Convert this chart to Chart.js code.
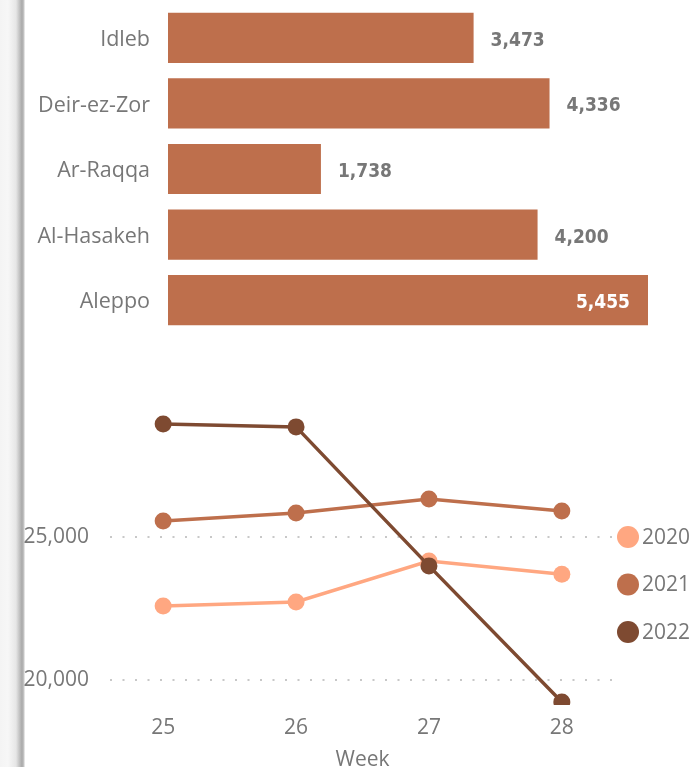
<!DOCTYPE html>
<html>
<head>
<meta charset="utf-8">
<script src="https://cdn.jsdelivr.net/npm/chart.js@4"></script>
<style>
  html, body { margin:0; padding:0; background:#fff; }
  body { width:691px; height:767px; position:relative; overflow:hidden; }
  #strip { position:absolute; left:0; top:0; width:25px; height:767px;
    background:linear-gradient(to right,#f4f4f4 0px,#f7f7f7 8px,#e6e6e6 16px,#bdbdbd 20px,#a8a8a8 22px,#c8c8c8 24px,#ffffff 25px); }
  #wrapBar { position:absolute; left:0; top:0; width:691px; height:340px; }
  #wrapLine { position:absolute; left:0; top:340px; width:691px; height:433px; }
</style>
</head>
<body>
<div id="strip"></div>
<div id="wrapBar"><canvas id="bar" width="691" height="340"></canvas></div>
<div id="wrapLine"><canvas id="line" width="691" height="433"></canvas></div>
<script>
// ---------- data ----------
const governorates = ["Idleb", "Deir-ez-Zor", "Ar-Raqqa", "Al-Hasakeh", "Aleppo"];
const governorateValues = [3473, 4336, 1738, 4200, 5455];

const weeks = [25, 26, 27, 28];
const seriesNames = ["2020", "2021", "2022"];
const values2020 = [22590, 22730, 24160, 23700];
const values2021 = [25560, 25840, 26330, 25910];
const values2022 = [28950, 28850, 23990, 19230];
const yTickValues = [20000, 25000];

const GRAY = "#777777";
const BAR = "#BE6F4C";
const C2020 = "#FFA781";
const C2021 = "#BE6F4C";
const C2022 = "#7E4A31";
const FONT = "'Open Sans', 'Noto Sans', sans-serif";

// ---------- bar chart ----------
const valueLabels = {
  id: "valueLabels",
  afterDatasetsDraw(chart) {
    const ctx = chart.ctx;
    const meta = chart.getDatasetMeta(0);
    const maxV = Math.max(...governorateValues);
    ctx.save();
    ctx.font = "600 19px 'DejaVu Sans Condensed', Roboto, sans-serif";
    ctx.textBaseline = "middle";
    meta.data.forEach((el, i) => {
      const v = governorateValues[i];
      const txt = v.toLocaleString("en-US");
      if (v === maxV) {
        ctx.fillStyle = "#ffffff";
        ctx.textAlign = "right";
        ctx.fillText(txt, el.x - 18, el.y + 3);
      } else {
        ctx.fillStyle = GRAY;
        ctx.textAlign = "left";
        ctx.fillText(txt, el.x + 17, el.y + 3);
      }
    });
    ctx.restore();
  }
};

new Chart(document.getElementById("bar"), {
  type: "bar",
  data: {
    labels: governorates,
    datasets: [{
      data: governorateValues,
      backgroundColor: BAR,
      borderWidth: 0,
      categoryPercentage: 1,
      barPercentage: 0.765
    }]
  },
  options: {
    indexAxis: "y",
    responsive: false,
    animation: false,
    layout: { padding: { left: 0, right: 43, top: 5, bottom: 7 } },
    plugins: { legend: { display: false }, tooltip: { enabled: false } },
    scales: {
      x: { display: false, min: 0, max: Math.max(...governorateValues) },
      y: {
        grid: { display: false, drawTicks: false },
        border: { display: false },
        ticks: { color: GRAY, font: { family: FONT, size: 21.5 }, padding: 18, labelOffset: 2 },
        afterFit(scale) { scale.width = 168; scale.paddingTop = 0; scale.paddingBottom = 0; }
      }
    }
  },
  plugins: [valueLabels]
});

// ---------- line chart ----------
function series(vals) { return weeks.map((w, i) => ({ x: w, y: vals[i] })); }
const colors = [C2020, C2021, C2022];
const allVals = [values2020, values2021, values2022];

const customLegend = {
  id: "customLegend",
  afterDraw(chart) {
    const ctx = chart.ctx;
    const a = chart.chartArea;
    ctx.save();
    ctx.font = "21px " + FONT;
    ctx.textBaseline = "middle";
    ctx.textAlign = "left";
    const y0 = chart.scales.y.getPixelForValue(yTickValues[1]);
    seriesNames.forEach((name, i) => {
      const cy = y0 + i * 47.5;
      ctx.beginPath();
      ctx.fillStyle = colors[i];
      ctx.arc(a.right + 13, cy, 11, 0, Math.PI * 2);
      ctx.fill();
      ctx.fillStyle = GRAY;
      ctx.fillText(name, a.right + 27, cy + 1);
    });
    ctx.restore();
  }
};

new Chart(document.getElementById("line"), {
  type: "line",
  data: {
    datasets: seriesNames.map((name, i) => ({
      label: name,
      data: series(allVals[i]),
      borderColor: colors[i],
      backgroundColor: colors[i],
      pointBackgroundColor: colors[i],
      pointBorderWidth: 0,
      pointRadius: 8.5,
      borderWidth: 3.5,
      tension: 0,
      order: 3 - i,
      clip: { left: 20, right: 20, top: 20, bottom: 0 }
    }))
  },
  options: {
    responsive: false,
    animation: false,
    layout: { padding: { left: 0, right: 76, top: 60, bottom: 0 } },
    plugins: { legend: { display: false }, tooltip: { enabled: false } },
    scales: {
      x: {
        type: "linear",
        min: weeks[0] - 0.4,
        max: weeks[weeks.length - 1] + 0.4,
        grid: { display: false, drawTicks: false },
        border: { display: false },
        afterBuildTicks(scale) { scale.ticks = weeks.map(v => ({ value: v })); },
        ticks: { color: GRAY, font: { family: FONT, size: 21 }, padding: 10,
          callback: v => String(v) },
        title: { display: true, text: "Week", color: GRAY,
          font: { family: FONT, size: 21 }, padding: { top: 0, bottom: 0 } },
        afterFit(scale) { scale.height = 68; }
      },
      y: {
        min: 19126,
        max: 29790,
        grid: { color: "#c8c8c8", lineWidth: 2, drawTicks: false },
        border: { display: false, dash: [2, 10.5] },
        afterBuildTicks(scale) { scale.ticks = yTickValues.map(v => ({ value: v })); },
        ticks: { color: GRAY, font: { family: FONT, size: 21 }, padding: 21,
          callback: v => v.toLocaleString("en-US") },
        afterFit(scale) { scale.width = 110; }
      }
    }
  },
  plugins: [customLegend]
});
</script>
</body>
</html>
